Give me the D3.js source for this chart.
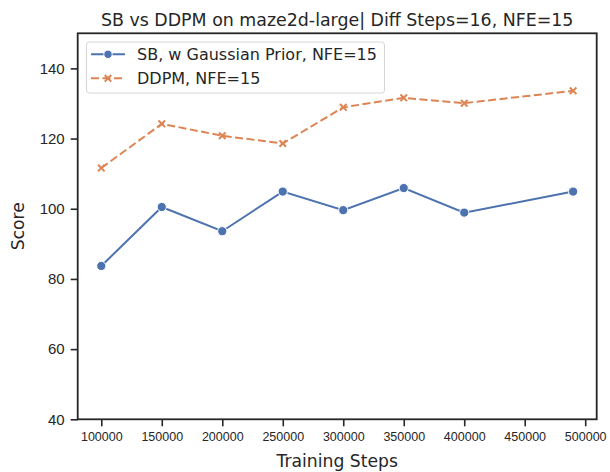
<html>
<head>
<meta charset="utf-8">
<title>SB vs DDPM</title>
<script src="https://d3js.org/d3.v7.min.js"></script>
<style>
  body { margin: 0; background: white; font-family: "DejaVu Sans", sans-serif; }
  text { fill: #262626; }
</style>
</head>
<body>
<div id="chart"></div>
<script>
// data
const steps = [100000, 150000, 200000, 250000, 300000, 350000, 400000, 490000];
const sbScores = [83.7, 100.5, 93.6, 104.9, 99.6, 105.9, 98.9, 104.9];
const ddpmScores = [111.6, 124.2, 120.8, 118.6, 128.9, 131.6, 130.1, 133.6];
const xTicks = [100000, 150000, 200000, 250000, 300000, 350000, 400000, 450000, 500000];
const yTicks = [40, 60, 80, 100, 120, 140];
const seriesNames = ["SB, w Gaussian Prior, NFE=15", "DDPM, NFE=15"];

const width = 610, height = 472;
const margin = {top: 33.3, right: 13.3, bottom: 52.7, left: 77.7};
const blue = "#4c72b0", orange = "#dd8452";

const svg = d3.select("#chart").append("svg")
  .attr("width", width).attr("height", height);

// x limits like matplotlib: 5% padding on data range
const pad = (d3.max(steps) - d3.min(steps)) * 0.05;
const x = d3.scaleLinear()
  .domain([d3.min(steps) - pad, d3.max(steps) + pad])
  .range([margin.left, width - margin.right]);
const y = d3.scaleLinear()
  .domain([40, 150])
  .range([height - margin.bottom, margin.top]);

// axes
const xAxis = svg.append("g")
  .attr("transform", "translate(0," + (height - margin.bottom) + ")")
  .call(d3.axisBottom(x).tickValues(xTicks).tickFormat(d3.format("d")).tickSize(7).tickPadding(6));
xAxis.selectAll("text").style("font-size", "12.5px");

const yAxis = svg.append("g")
  .attr("transform", "translate(" + margin.left + ",0)")
  .call(d3.axisLeft(y).tickValues(yTicks).tickSize(7).tickPadding(6));
yAxis.selectAll("text").style("font-size", "15px");

svg.selectAll(".domain").remove();
svg.selectAll(".tick line").attr("stroke", "#262626").attr("stroke-width", 1.6);

// frame
svg.append("rect")
  .attr("x", margin.left).attr("y", margin.top)
  .attr("width", width - margin.left - margin.right)
  .attr("height", height - margin.top - margin.bottom)
  .attr("fill", "none").attr("stroke", "#262626").attr("stroke-width", 1.8);

// lines
const line = d3.line().x((d, i) => x(steps[i])).y(d => y(d));

svg.append("path").datum(sbScores)
  .attr("d", line).attr("fill", "none")
  .attr("stroke", blue).attr("stroke-width", 2);

svg.append("path").datum(ddpmScores)
  .attr("d", line).attr("fill", "none")
  .attr("stroke", orange).attr("stroke-width", 2)
  .attr("stroke-dasharray", "8,3.5");

svg.selectAll(".sbdot").data(sbScores).enter().append("circle")
  .attr("cx", (d, i) => x(steps[i])).attr("cy", d => y(d))
  .attr("r", 4.6).attr("fill", blue)
  .attr("stroke", "white").attr("stroke-width", 1);

const cross = d3.symbol().type(d3.symbolX).size(30);
svg.selectAll(".ddpmx").data(ddpmScores).enter().append("path")
  .attr("d", cross)
  .attr("transform", (d, i) => "translate(" + x(steps[i]) + "," + y(d) + ")")
  .attr("fill", "none").attr("stroke", orange).attr("stroke-width", 2);

// labels
svg.append("text")
  .attr("x", (margin.left + width - margin.right) / 2).attr("y", 26)
  .attr("text-anchor", "middle").style("font-size", "17.4px")
  .text("SB vs DDPM on maze2d-large| Diff Steps=16, NFE=15");

svg.append("text")
  .attr("x", (margin.left + width - margin.right) / 2).attr("y", 467)
  .attr("text-anchor", "middle").style("font-size", "17.2px")
  .text("Training Steps");

svg.append("text")
  .attr("transform", "translate(24," + (margin.top + height - margin.bottom) / 2 + ") rotate(-90)")
  .attr("text-anchor", "middle").style("font-size", "17.2px")
  .text("Score");

// legend
const legend = svg.append("g");
legend.append("rect")
  .attr("x", 86.5).attr("y", 42).attr("width", 298).attr("height", 51)
  .attr("rx", 3).attr("fill", "white")
  .attr("stroke", "#d6d6d6").attr("stroke-width", 1);

const rows = legend.selectAll(".row").data(seriesNames).enter().append("g")
  .attr("transform", (d, i) => "translate(0," + (54.3 + i * 24) + ")");

rows.append("line")
  .attr("x1", 91).attr("x2", 125)
  .attr("stroke", (d, i) => i === 0 ? blue : orange)
  .attr("stroke-width", 2)
  .attr("stroke-dasharray", (d, i) => i === 0 ? null : "8,3.5");

rows.filter((d, i) => i === 0).append("circle")
  .attr("cx", 108).attr("r", 4.2).attr("fill", blue)
  .attr("stroke", "white").attr("stroke-width", 1);
rows.filter((d, i) => i === 1).append("path")
  .attr("d", cross).attr("transform", "translate(108,0)")
  .attr("fill", "none").attr("stroke", orange).attr("stroke-width", 2);

rows.append("text")
  .attr("x", 137).attr("dy", "0.35em")
  .style("font-size", "16px")
  .text(d => d);
</script>
</body>
</html>
